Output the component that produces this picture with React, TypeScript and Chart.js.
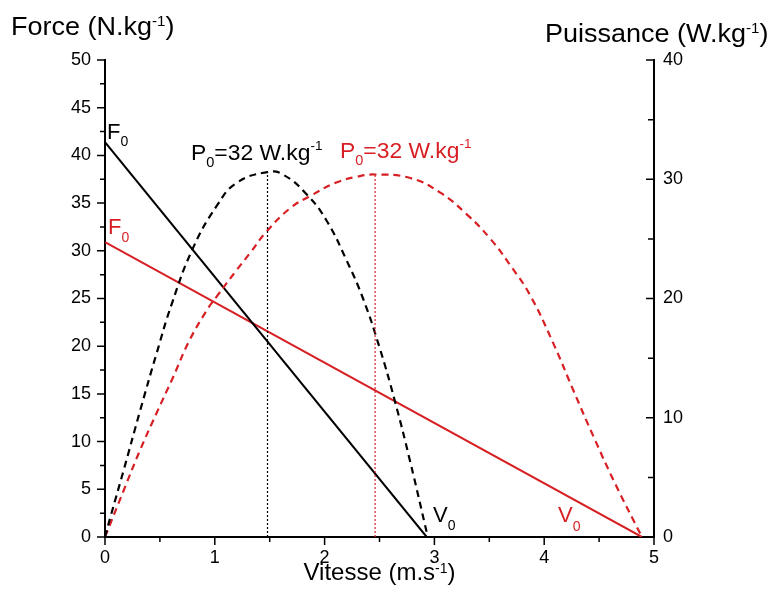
import React, { useEffect, useRef } from 'react';
import { Chart, registerables } from 'chart.js';

Chart.register(...registerables);

const RED = '#d71f24';
const BLACK = '#000000';
const FONT = '"Liberation Sans", Arial, Helvetica, sans-serif';

// Tick values
const xTickValues = [0, 1, 2, 3, 4, 5];
const forceTickValues = [0, 5, 10, 15, 20, 25, 30, 35, 40, 45, 50];
const powerTickValues = [0, 10, 20, 30, 40];

// Force-velocity lines (left axis)
const blackForceV = [0, 2.93];
const blackForceF = [41.4, 0];
const redForceV = [0, 4.89];
const redForceF = [30.9, 0];

// Power-velocity curves (right axis)
const blackPowerV = [0, 0.05, 0.17, 0.32, 0.47, 0.61, 0.8, 1.02, 1.2, 1.48, 1.62, 1.84, 2.02, 2.2, 2.35, 2.5, 2.64, 2.78, 2.94];
const blackPowerP = [0, 1.7, 5.6, 10.6, 15.4, 19.6, 24.2, 27.8, 29.7, 30.6, 30.4, 28.7, 26.5, 23.2, 20.0, 15.9, 11.4, 6.3, 0];
const redPowerV = [0, 0.17, 0.32, 0.47, 0.62, 0.77, 0.94, 1.02, 1.2, 1.32, 1.47, 1.69, 1.87, 2.1, 2.29, 2.46, 2.78, 3.05, 3.29, 3.51, 3.69, 3.87, 4.08, 4.27, 4.45, 4.65, 4.89];
const redPowerP = [0, 3.9, 7.3, 10.4, 13.4, 16.5, 19.2, 20.2, 22.4, 23.8, 25.6, 27.6, 28.6, 29.7, 30.2, 30.4, 30.1, 28.9, 27.1, 25.0, 22.8, 20.3, 16.3, 12.2, 8.4, 4.4, 0];

// Peak power markers (vertical dotted lines)
const peakV = [1.48, 2.46];
const peakP = [30.6, 30.4];

const pts = (xs: number[], ys: number[]) => xs.map((x, i) => ({ x, y: ys[i] }));

type Part = { t: string; size: number; dy: number };

function drawRich(
  ctx: CanvasRenderingContext2D,
  x: number,
  y: number,
  parts: Part[],
  color: string,
  align: 'left' | 'center' = 'left',
  sx = 1,
) {
  ctx.save();
  ctx.fillStyle = color;
  ctx.textBaseline = 'alphabetic';
  ctx.textAlign = 'left';
  let total = 0;
  const widths = parts.map((p) => {
    ctx.font = `${p.size}px ${FONT}`;
    const w = ctx.measureText(p.t).width;
    total += w;
    return w;
  });
  const start = align === 'center' ? x - (total * sx) / 2 : x;
  ctx.translate(start, y);
  ctx.scale(sx, 1);
  let cx = 0;
  parts.forEach((p, i) => {
    ctx.font = `${p.size}px ${FONT}`;
    ctx.fillText(p.t, cx, p.dy);
    cx += widths[i];
  });
  ctx.restore();
}

const midpoints = (arr: number[]) => arr.slice(1).map((v, i) => (v + arr[i]) / 2);

const decorPlugin = {
  id: 'decor',
  afterDraw(chart: any) {
    const ctx: CanvasRenderingContext2D = chart.ctx;
    const xs = chart.scales.x;
    const ys = chart.scales.y;
    const ys2 = chart.scales.y2;
    const left = chart.chartArea.left;
    const right = chart.chartArea.right;
    const bottom = chart.chartArea.bottom;

    ctx.save();
    ctx.strokeStyle = BLACK;
    ctx.lineWidth = 1.5;
    ctx.beginPath();
    xTickValues.forEach((v) => {
      const p = xs.getPixelForValue(v);
      ctx.moveTo(p, bottom);
      ctx.lineTo(p, bottom + 8);
    });
    midpoints(xTickValues).forEach((v) => {
      const p = xs.getPixelForValue(v);
      ctx.moveTo(p, bottom);
      ctx.lineTo(p, bottom + 5);
    });
    forceTickValues.forEach((v) => {
      const p = ys.getPixelForValue(v);
      ctx.moveTo(left, p);
      ctx.lineTo(left - 8, p);
    });
    midpoints(forceTickValues).forEach((v) => {
      const p = ys.getPixelForValue(v);
      ctx.moveTo(left, p);
      ctx.lineTo(left - 5, p);
    });
    powerTickValues.forEach((v) => {
      const p = ys2.getPixelForValue(v);
      ctx.moveTo(right, p);
      ctx.lineTo(right - 8, p);
    });
    midpoints(powerTickValues).forEach((v) => {
      const p = ys2.getPixelForValue(v);
      ctx.moveTo(right, p);
      ctx.lineTo(right - 6, p);
    });
    ctx.stroke();
    ctx.restore();

    // Axis titles
    drawRich(ctx, 11, 35, [
      { t: 'Force (N.kg', size: 25, dy: 0 },
      { t: '-1', size: 14, dy: -9 },
      { t: ')', size: 25, dy: 0 },
    ], BLACK, 'left', 1.08);
    drawRich(ctx, 545, 42, [
      { t: 'Puissance (W.kg', size: 25, dy: 0 },
      { t: '-1', size: 14, dy: -9 },
      { t: ')', size: 25, dy: 0 },
    ], BLACK, 'left', 1.08);
    drawRich(ctx, (left + right) / 2, 580, [
      { t: 'Vitesse (m.s', size: 24, dy: 0 },
      { t: '-1', size: 14, dy: -7 },
      { t: ')', size: 24, dy: 0 },
    ], BLACK, 'center');

    // Annotations
    drawRich(ctx, 107, 138.5, [
      { t: 'F', size: 22, dy: 0 },
      { t: '0', size: 14, dy: 7 },
    ], BLACK);
    drawRich(ctx, 108, 234, [
      { t: 'F', size: 22, dy: 0 },
      { t: '0', size: 14, dy: 8 },
    ], RED);
    drawRich(ctx, 191, 160, [
      { t: 'P', size: 22, dy: 0 },
      { t: '0', size: 14, dy: 7 },
      { t: '=32 W.kg', size: 22, dy: 0 },
      { t: '-1', size: 13, dy: -10 },
    ], BLACK, 'left', 1.04);
    drawRich(ctx, 340, 157.5, [
      { t: 'P', size: 22, dy: 0 },
      { t: '0', size: 14, dy: 7 },
      { t: '=32 W.kg', size: 22, dy: 0 },
      { t: '-1', size: 13, dy: -10 },
    ], RED, 'left', 1.04);
    drawRich(ctx, 433, 521.5, [
      { t: 'V', size: 22, dy: 0 },
      { t: '0', size: 14, dy: 8 },
    ], BLACK);
    drawRich(ctx, 558, 521.5, [
      { t: 'V', size: 22, dy: 0 },
      { t: '0', size: 14, dy: 9 },
    ], RED);
  },
};

export default function App() {
  const canvasRef = useRef<HTMLCanvasElement | null>(null);

  useEffect(() => {
    document.body.style.margin = '0';
    const canvas = canvasRef.current;
    if (!canvas) return;

    const solid = (data: any, color: string) => ({
      type: 'scatter' as const,
      data,
      showLine: true,
      borderColor: color,
      backgroundColor: color,
      borderWidth: 2,
      pointRadius: 0,
      tension: 0,
      yAxisID: 'y',
    });
    const dashed = (data: any, color: string) => ({
      type: 'scatter' as const,
      data,
      showLine: true,
      borderColor: color,
      backgroundColor: color,
      borderWidth: 2.2,
      borderDash: [7, 5],
      pointRadius: 0,
      tension: 0.45,
      yAxisID: 'y2',
    });
    const dotted = (i: number, color: string) => ({
      type: 'scatter' as const,
      data: [{ x: peakV[i], y: 0 }, { x: peakV[i], y: peakP[i] }],
      showLine: true,
      borderColor: color,
      borderWidth: 1.2,
      borderDash: [2, 2],
      pointRadius: 0,
      yAxisID: 'y2',
    });

    const tickFont = { family: FONT, size: 18 };

    const chart = new Chart(canvas, {
      type: 'scatter',
      data: {
        datasets: [
          dotted(0, BLACK),
          dotted(1, RED),
          dashed(pts(blackPowerV, blackPowerP), BLACK),
          dashed(pts(redPowerV, redPowerP), RED),
          solid(pts(blackForceV, blackForceF), BLACK),
          solid(pts(redForceV, redForceF), RED),
        ] as any,
      },
      options: {
        animation: false,
        responsive: false,
        devicePixelRatio: 1,
        layout: { padding: { top: 60, left: 0, right: 0, bottom: 0 } },
        plugins: {
          legend: { display: false },
          tooltip: { enabled: false },
        },
        scales: {
          x: {
            type: 'linear',
            min: 0,
            max: 5,
            grid: { display: false, drawTicks: false },
            border: { display: true, color: BLACK, width: 2 },
            ticks: {
              stepSize: 1,
              color: BLACK,
              font: tickFont,
              padding: 10,
              maxRotation: 0,
              callback: (v: any) => (xTickValues.includes(Number(v)) ? String(v) : ''),
            },
            afterFit: (s: any) => { s.height = 62; },
          },
          y: {
            type: 'linear',
            position: 'left',
            min: 0,
            max: 50,
            grid: { display: false, drawTicks: false },
            border: { display: true, color: BLACK, width: 2 },
            ticks: {
              stepSize: 5,
              color: BLACK,
              font: tickFont,
              padding: 14,
              callback: (v: any) => (forceTickValues.includes(Number(v)) ? String(v) : ''),
            },
            afterFit: (s: any) => { s.width = 105; },
          },
          y2: {
            type: 'linear',
            position: 'right',
            min: 0,
            max: 40,
            grid: { display: false, drawTicks: false },
            border: { display: true, color: BLACK, width: 2 },
            ticks: {
              stepSize: 10,
              color: BLACK,
              font: tickFont,
              padding: 9,
              callback: (v: any) => (powerTickValues.includes(Number(v)) ? String(v) : ''),
            },
            afterFit: (s: any) => { s.width = 122; },
          },
        },
      } as any,
      plugins: [decorPlugin],
    });

    return () => {
      chart.destroy();
    };
  }, []);

  return (
    <div style={{ position: 'absolute', left: 0, top: 0, width: 776, height: 599, background: '#ffffff' }}>
      <canvas ref={canvasRef} width={776} height={599} style={{ width: 776, height: 599, display: 'block' }} />
    </div>
  );
}
